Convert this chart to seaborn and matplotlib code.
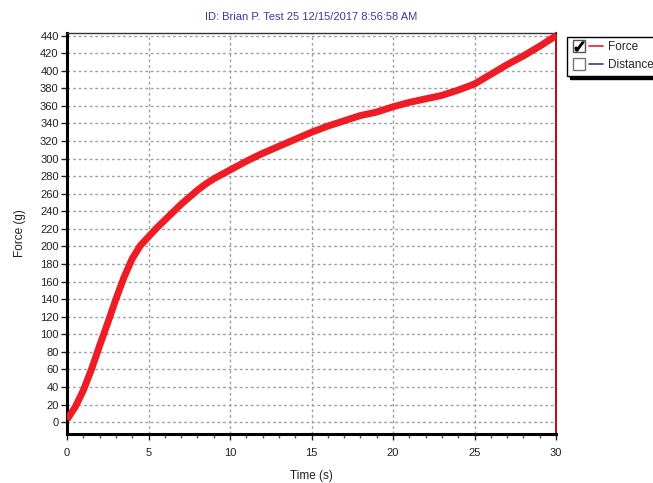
import numpy as np
import pandas as pd
import seaborn as sns
import matplotlib
matplotlib.use("Agg")
import matplotlib.pyplot as plt
from matplotlib.lines import Line2D
from matplotlib.legend_handler import HandlerTuple
from matplotlib.ticker import MultipleLocator

# ---- data ----
time_s = [0, 0.25, 0.5, 1, 1.5, 2, 2.5, 3, 3.5, 4, 4.5, 5, 5.5, 6, 6.5, 7,
          7.5, 8, 8.5, 9, 10, 11, 12, 13, 14, 15, 16, 17, 18, 19, 20, 21,
          22, 23, 24, 25, 26, 27, 28, 29, 30]
force_g = [3, 10, 17, 36, 60, 87, 113, 140, 165, 186, 201, 211, 221, 230,
           239, 248, 256, 264, 271, 277, 287, 297, 306, 314, 322, 330, 337,
           343, 349, 353, 359, 364, 368, 372, 378, 385, 396, 407, 417, 428,
           440]
title_text = "ID: Brian P. Test 25 12/15/2017 8:56:58 AM"
x_label = "Time (s)"
y_label = "Force (g)"
legend_labels = ["Force", "Distance"]
y_ticks = list(range(0, 441, 20))
x_ticks = list(range(0, 31, 5))

df = pd.DataFrame({"Time": time_s, "Force": force_g})

sns.set_style("white")
plt.rcParams["font.family"] = ["Liberation Sans", "DejaVu Sans"]

fig = plt.figure(figsize=(6.53, 4.83), dpi=100)
ax = fig.add_axes([0.1026, 0.1014, 0.749, 0.8303])

sns.lineplot(data=df, x="Time", y="Force", ax=ax, color="#ee1c24",
             linewidth=5, solid_capstyle="butt", solid_joinstyle="round",
             zorder=3)

ax.set_xlim(0, 30)
ax.set_ylim(-13.6, 443)
ax.set_xticks(x_ticks)
ax.xaxis.set_minor_locator(MultipleLocator(1))
ax.set_yticks(y_ticks)

ax.grid(True, which="major", color="#a0a0a0", linestyle=(0, (2, 2)),
        linewidth=1.0, zorder=0)

for s in ["left", "bottom"]:
    ax.spines[s].set_color("black")
    ax.spines[s].set_linewidth(2.2)
ax.spines["top"].set_color("#333333")
ax.spines["top"].set_linewidth(1.0)
ax.spines["right"].set_color("#b01818")
ax.spines["right"].set_linewidth(1.5)

ax.tick_params(axis="both", which="major", labelsize=8, colors="#222222",
               length=4, width=1, direction="out", left=True, bottom=True)
ax.tick_params(axis="x", which="minor", length=3, width=1, direction="out",
               bottom=True, colors="#555555")
ax.tick_params(axis="x", which="major", pad=6)
ax.tick_params(axis="y", which="major", pad=2)

ax.set_xlabel(x_label, fontsize=8.5, color="#222222", labelpad=9)
ax.set_ylabel(y_label, fontsize=8.5, color="#222222", labelpad=10)
ax.set_title(title_text, fontsize=8, color="#3a3aa8", pad=9)

# legend with checkboxes
box_f = Line2D([], [], marker="s", markersize=8, markerfacecolor="white",
               markeredgecolor="#555555", linestyle="none")
chk = Line2D([], [], marker=r"$\checkmark$", markersize=6.5, color="black",
             linestyle="none")
box_d = Line2D([], [], marker="s", markersize=8, markerfacecolor="white",
               markeredgecolor="#777777", linestyle="none")
ln_f = Line2D([], [], color="#ee1c24", linewidth=1.2)
ln_d = Line2D([], [], color="#2a3cb0", linewidth=1.2)

h_force = ((box_f, chk), ln_f)
h_dist = (box_d, ln_d)
outer = HandlerTuple(ndivide=None, pad=0.3)

leg = fig.legend([h_force, h_dist], legend_labels,
                 handler_map={h_force: outer, h_dist: outer},
                 loc="upper left", bbox_to_anchor=(0.869, 0.924),
                 fontsize=8.5, frameon=True, fancybox=False,
                 shadow={"color": "black", "alpha": 1, "ox": 2, "oy": -2},
                 edgecolor="black", handlelength=2.6, handletextpad=0.4,
                 borderpad=0.4, labelspacing=0.5, borderaxespad=0)
leg.get_frame().set_linewidth(1.0)

fig.savefig("out.png", dpi=100)
